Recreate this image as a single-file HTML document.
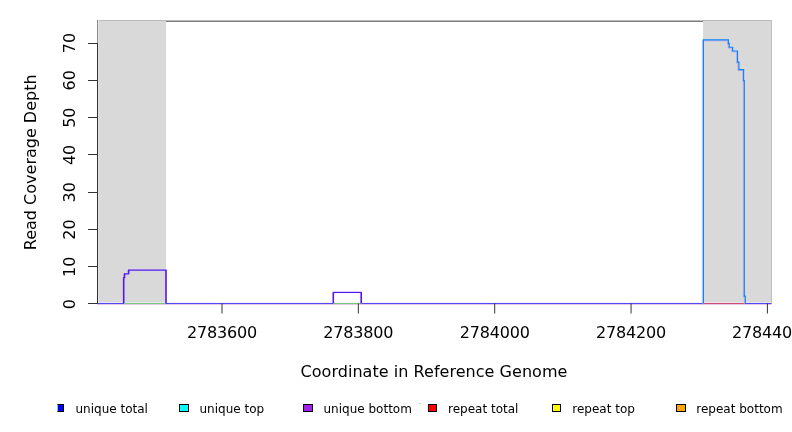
<!DOCTYPE html>
<html><head><meta charset="utf-8">
<style>
html,body{margin:0;padding:0;background:#fff;}
body{width:792px;height:432px;overflow:hidden;}
svg{display:block;}
text{font-family:"DejaVu Sans","Liberation Sans",sans-serif;fill:#000;}
</style></head><body>
<svg width="792" height="432" viewBox="0 0 792 432">
<rect x="97" y="20" width="69" height="283.5" fill="#d9d9d9"/>
<rect x="703" y="20" width="69" height="283.5" fill="#d9d9d9"/>
<line x1="97" y1="20.5" x2="772" y2="20.5" stroke="#bababa" stroke-width="1"/>
<line x1="771.5" y1="20" x2="771.5" y2="303.5" stroke="#bebebe" stroke-width="1"/>
<line x1="166" y1="21.5" x2="703" y2="21.5" stroke="#7d7d7d" stroke-width="1"/>
<line x1="97.5" y1="20" x2="97.5" y2="43" stroke="#8c8c8c" stroke-width="1"/>
<line x1="98.5" y1="20" x2="98.5" y2="303" stroke="#e4e4e4" stroke-width="1"/>
<line x1="97" y1="304.5" x2="771.5" y2="304.5" stroke="#e6c8e2" stroke-width="1"/>
<line x1="97" y1="302.5" x2="771.5" y2="302.5" stroke="#eeeef8" stroke-width="1" opacity="0.6"/>
<path d="M97.5 303.5 H124 M166 303.5 H333 M361.5 303.5 H703.5 M745 303.5 H771.5" stroke="#5048fa" stroke-width="1" fill="none"/>
<line x1="124.5" y1="303.5" x2="166" y2="303.5" stroke="#78c87c" stroke-width="1"/>
<line x1="333.5" y1="303.5" x2="361" y2="303.5" stroke="#78c87c" stroke-width="1"/>
<line x1="704" y1="303.5" x2="745" y2="303.5" stroke="#d24a72" stroke-width="1"/>
<path d="M703.3 39.83 H728.4 M728.4 43.55 H729.2 M729.2 47.26 H732.6 M732.6 50.98 H737.5 M737.5 62.12 H738.9 M738.9 69.55 H743.6 M743.6 80.69 H744.3 M744.3 296.12 H745.3 M703.3 303.5 V39.83 M728.4 39.83 V43.55 M729.2 43.55 V47.26 M732.6 47.26 V50.98 M737.5 50.98 V62.12 M738.9 62.12 V69.55 M743.6 69.55 V80.69 M744.3 80.69 V296.12 M745.3 296.12 V303.5" transform="translate(-1,1)" stroke="#bfa8e8" stroke-width="1" fill="none" opacity="0.8"/>
<path d="M123.7 277.55 H124.5 M124.5 273.84 H128.6 M128.6 270.12 H166" stroke="#5218f4" stroke-width="1.25" fill="none" stroke-linecap="square"/>
<path d="M123.7 303.5 V277.55 M124.5 277.55 V273.84 M128.6 273.84 V270.12 M166 270.12 V303.5" stroke="#5218f4" stroke-width="1.6" fill="none"/>
<path d="M333.3 292.41 H361.2" stroke="#5218f4" stroke-width="1.25" fill="none" stroke-linecap="square"/>
<path d="M333.3 303.5 V292.41 M361.2 292.41 V303.5" stroke="#5218f4" stroke-width="1.6" fill="none"/>
<path d="M703.4 39.83 H728.4 M728.4 43.55 H729.2 M729.2 47.26 H732.6 M732.6 50.98 H737.5 M737.5 62.12 H738.9 M738.9 69.55 H743.6 M743.6 80.69 H744.3 M744.3 296.12 H745.3" stroke="#0c82ff" stroke-width="1.15" fill="none" stroke-linecap="square"/>
<path d="M703.4 303.5 V39.83 M728.4 39.83 V43.55 M729.2 43.55 V47.26 M732.6 47.26 V50.98 M737.5 50.98 V62.12 M738.9 62.12 V69.55 M743.6 69.55 V80.69 M744.3 80.69 V296.12 M745.3 296.12 V303.5" stroke="#0c82ff" stroke-width="1.15" fill="none"/>
<g stroke="#333" stroke-width="1">
<line x1="97.5" y1="43" x2="97.5" y2="304"/>
<line x1="88" y1="303.5" x2="97.5" y2="303.5"/>
<line x1="88" y1="266.5" x2="97.5" y2="266.5"/>
<line x1="88" y1="229.5" x2="97.5" y2="229.5"/>
<line x1="88" y1="192.5" x2="97.5" y2="192.5"/>
<line x1="88" y1="154.5" x2="97.5" y2="154.5"/>
<line x1="88" y1="117.5" x2="97.5" y2="117.5"/>
<line x1="88" y1="80.5" x2="97.5" y2="80.5"/>
<line x1="88" y1="43.5" x2="97.5" y2="43.5"/>
</g>
<g font-size="16" text-anchor="middle">
<text transform="translate(75,304.05) rotate(-90)">0</text>
<text transform="translate(75,266.77) rotate(-90)">10</text>
<text transform="translate(75,229.49) rotate(-90)">20</text>
<text transform="translate(75,192.21) rotate(-90)">30</text>
<text transform="translate(75,154.93) rotate(-90)">40</text>
<text transform="translate(75,117.65) rotate(-90)">50</text>
<text transform="translate(75,80.37) rotate(-90)">60</text>
<text transform="translate(75,43.09) rotate(-90)">70</text>
</g>
<g stroke="#333" stroke-width="1">
<line x1="222.00" y1="303.5" x2="222.00" y2="313.5"/>
<line x1="358.35" y1="303.5" x2="358.35" y2="313.5"/>
<line x1="494.70" y1="303.5" x2="494.70" y2="313.5"/>
<line x1="631.05" y1="303.5" x2="631.05" y2="313.5"/>
<line x1="767.40" y1="303.5" x2="767.40" y2="313.5"/>
</g>
<g font-size="16" text-anchor="middle" letter-spacing="-0.17">
<text x="222.00" y="337.7">2783600</text>
<text x="358.35" y="337.7">2783800</text>
<text x="494.70" y="337.7">2784000</text>
<text x="631.05" y="337.7">2784200</text>
<text x="767.00" y="337.7">2784400</text>
</g>
<text x="434.0" y="376.5" font-size="16" text-anchor="middle" letter-spacing="0.04">Coordinate in Reference Genome</text>
<text transform="translate(35.6,162.3) rotate(-90)" font-size="16" text-anchor="middle">Read Coverage Depth</text>
<g stroke="#000" stroke-width="1">
<rect x="57" y="404" width="7" height="8" fill="#0000ff" stroke="none"/>
<rect x="57" y="404" width="1" height="8" fill="#b4b4ff" stroke="none"/>
<path d="M57.5 404.5 H63.5 V411.5 H57.5" fill="none"/>
<rect x="179.5" y="404.5" width="9" height="7" fill="#00ffff"/>
<rect x="303.5" y="404.5" width="9" height="7" fill="#a020f0"/>
<rect x="428.5" y="404.5" width="8" height="7" fill="#ff0000"/>
<rect x="552.5" y="404.5" width="8" height="7" fill="#ffff00"/>
<rect x="676.5" y="404.5" width="9" height="7" fill="#ffa500"/>
</g>
<g font-size="12">
<text x="75.5" y="413">unique total</text>
<text x="199.5" y="413">unique top</text>
<text x="323.5" y="413">unique bottom</text>
<text x="448" y="413">repeat total</text>
<text x="572.3" y="413">repeat top</text>
<text x="696.3" y="413">repeat bottom</text>
</g>
<rect x="419" y="403" width="2" height="1" fill="#d0d0d0"/>
</svg>
</body></html>
